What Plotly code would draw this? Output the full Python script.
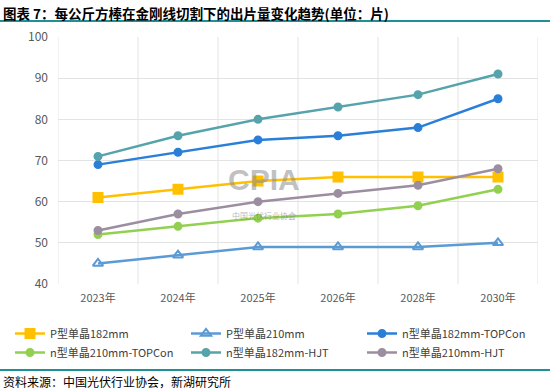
import plotly.graph_objects as go

years = ["2023年", "2024年", "2025年", "2026年", "2028年", "2030年"]
p182 = [61, 63, 65, 66, 66, 66]
p210 = [45, 47, 49, 49, 49, 50]
n182_topcon = [69, 72, 75, 76, 78, 85]
n210_topcon = [52, 54, 56, 57, 59, 63]
n182_hjt = [71, 76, 80, 83, 86, 91]
n210_hjt = [53, 57, 60, 62, 64, 68]

series = [
    ("P型单晶182mm", p182, "#FFC000", "square", 9),
    ("P型单晶210mm", p210, "#5B9BD5", "triangle-up-open", 9),
    ("n型单晶182mm-TOPCon", n182_topcon, "#2A7FD8", "circle", 7),
    ("n型单晶210mm-TOPCon", n210_topcon, "#92D050", "circle", 7),
    ("n型单晶182mm-HJT", n182_hjt, "#56A3AC", "circle", 7),
    ("n型单晶210mm-HJT", n210_hjt, "#9C8EA0", "circle", 7),
]

W, H = 550, 391
L, R, T, B = 58, 12, 37, 107
PW, PH = W - L - R, H - T - B


def px(x):
    return (x - L) / PW


def py(y):
    return (H - B - y) / PH


fig = go.Figure()
for name, vals, color, sym, size in series:
    fig.add_trace(go.Scatter(
        x=years, y=vals, name=name, mode="lines+markers",
        line=dict(color=color, width=2.5),
        marker=dict(symbol=sym, size=size, color=color,
                    line=dict(color=color, width=2)),
    ))

font = "Noto Sans CJK SC, Noto Sans, sans-serif"
fig.update_layout(
    width=W, height=H,
    margin=dict(l=L, r=R, t=T, b=B, autoexpand=False),
    paper_bgcolor="white", plot_bgcolor="white",
    font=dict(family=font, size=11, color="#595959"),
    showlegend=True,
    legend=dict(orientation="h", xref="paper", yref="paper",
                x=px(10), y=py(319), xanchor="left", yanchor="top",
                entrywidth=131, entrywidthmode="pixels",
                font=dict(size=11, color="#404040"),
                tracegroupgap=0, itemwidth=30, bgcolor="rgba(0,0,0,0)"),
    xaxis=dict(type="category", range=[-0.5, 5.5], showgrid=False,
               showline=False, ticks="", ticklabelstandoff=6,
               tickfont=dict(size=11, color="#595959")),
    yaxis=dict(range=[40, 100], dtick=10, showgrid=True, gridcolor="#E3E3E3",
               gridwidth=1, zeroline=False, showline=False, ticks="",
               ticklabelstandoff=9,
               tickfont=dict(size=12, color="#595959")),
)

shapes = []
for i in range(7):
    shapes.append(dict(type="line", xref="x", yref="paper", x0=i - 0.5, x1=i - 0.5,
                       y0=0, y1=1, line=dict(color="#E3E3E3", width=1), layer="below"))
shapes.append(dict(type="line", xref="paper", yref="paper", x0=px(0), x1=px(W),
                   y0=py(21), y1=py(21), line=dict(color="#1E9098", width=2)))
shapes.append(dict(type="line", xref="paper", yref="paper", x0=px(0), x1=px(W),
                   y0=py(370), y1=py(370), line=dict(color="#1E9098", width=2)))
fig.update_layout(shapes=shapes)

fig.add_annotation(text="<b>图表 7：每公斤方棒在金刚线切割下的出片量变化趋势(单位：片)</b>",
                   xref="paper", yref="paper", x=px(1), y=py(1),
                   xanchor="left", yanchor="top", showarrow=False,
                   font=dict(family="Noto Sans CJK SC", size=13.5, color="#000000"))
fig.add_annotation(text="资料来源：中国光伏行业协会，新湖研究所",
                   xref="paper", yref="paper", x=px(1), y=py(371),
                   xanchor="left", yanchor="top", showarrow=False,
                   font=dict(family="Noto Sans CJK SC", size=12, color="#000000"))
fig.add_annotation(text="<b>CPIA</b>", xref="x", yref="y", x=2.08, y=65.3,
                   showarrow=False, font=dict(family="Liberation Sans", size=30, color="rgba(140,140,140,0.55)"))
fig.add_annotation(text="中国光伏行业协会", xref="x", yref="y", x=2.08, y=56.6,
                   showarrow=False, font=dict(family="Noto Sans CJK SC", size=8, color="rgba(120,120,120,0.55)"))

fig.write_html("out.html", config={"displayModeBar": False},
               post_script="document.body.style.margin='0';")
